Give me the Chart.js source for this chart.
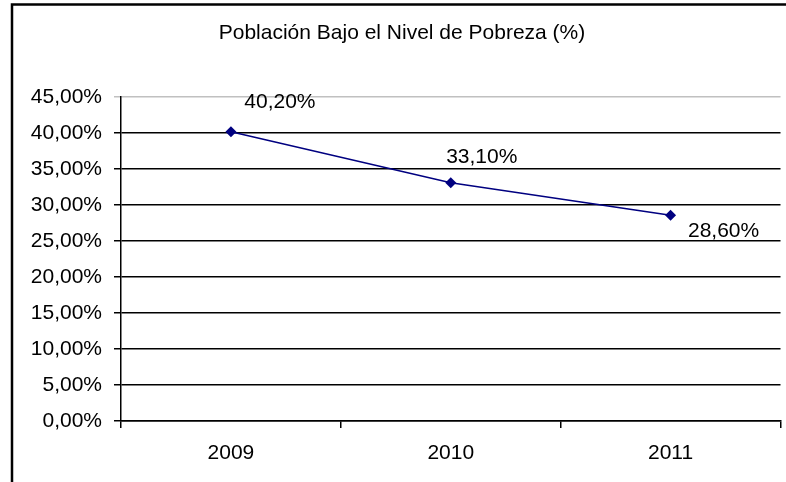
<!DOCTYPE html>
<html>
<head>
<meta charset="utf-8">
<script src="https://cdn.jsdelivr.net/npm/chart.js@4/dist/chart.umd.min.js"></script>
<style>
html,body{margin:0;padding:0;background:#fff;}
#wrap{width:786px;height:482px;position:relative;}
</style>
</head>
<body>
<div id="wrap"><canvas id="c" width="786" height="482"></canvas></div>
<script>
const categories = ['2009', '2010', '2011'];
const poverty = [40.2, 33.1, 28.6];
const yTicks = [0, 5, 10, 15, 20, 25, 30, 35, 40, 45];
const chartTitle = 'Población Bajo el Nivel de Pobreza (%)';

const fmt = v => v.toFixed(2).replace('.', ',') + '%';
const FONT = 'Liberation Sans, Arial, sans-serif';
const FSIZE = 21;

const frame = {
  id: 'frame',
  beforeDraw(chart) {
    const c = chart.ctx;
    c.save();
    c.fillStyle = '#fff';
    c.fillRect(0, 0, chart.width, chart.height);
    c.strokeStyle = '#000';
    c.lineWidth = 2.5;
    c.strokeRect(12, 4.5, chart.width + 20, chart.height + 20);
    c.restore();
  }
};

const labelOffsets = [[49, -30], [31, -26], [53, 16]];
const valueLabels = {
  id: 'valueLabels',
  afterDatasetsDraw(chart) {
    const c = chart.ctx;
    const meta = chart.getDatasetMeta(0);
    c.save();
    c.font = FSIZE + 'px ' + FONT;
    c.fillStyle = '#000';
    c.textAlign = 'center';
    c.textBaseline = 'middle';
    meta.data.forEach((pt, i) => {
      const o = labelOffsets[i];
      c.fillText(fmt(poverty[i]), pt.x + o[0], pt.y + o[1]);
    });
    c.restore();
  }
};

new Chart(document.getElementById('c'), {
  type: 'line',
  data: {
    labels: categories,
    datasets: [{
      data: poverty,
      borderColor: '#000080',
      backgroundColor: '#000080',
      borderWidth: 1.5,
      pointStyle: 'rectRot',
      pointRadius: 5.5,
      pointBorderWidth: 0,
      tension: 0,
      fill: false
    }]
  },
  plugins: [frame, valueLabels],
  options: {
    responsive: false,
    animation: false,
    devicePixelRatio: 1,
    layout: { padding: { left: 23, right: 5, top: 0, bottom: 0 } },
    plugins: {
      legend: { display: false },
      tooltip: { enabled: false },
      title: {
        display: true,
        text: chartTitle,
        color: '#000',
        font: { family: FONT, size: FSIZE, weight: 'normal', lineHeight: 1.2 },
        padding: { top: 21, bottom: 51 }
      }
    },
    scales: {
      x: {
        type: 'category',
        offset: true,
        afterFit(s) { s.height = 61; },
        border: { display: true, color: '#000', width: 1.5 },
        grid: {
          offset: true,
          drawOnChartArea: false,
          drawTicks: true,
          tickLength: 7,
          color: '#000',
          lineWidth: 1.5
        },
        ticks: {
          color: '#000',
          padding: 13,
          maxRotation: 0,
          font: { family: FONT, size: FSIZE }
        }
      },
      y: {
        min: 0,
        max: 45,
        afterFit(s) { s.width = 98; },
        afterBuildTicks(s) { s.ticks = yTicks.map(v => ({ value: v })); },
        border: { display: true, color: '#000', width: 1.5 },
        grid: {
          drawTicks: true,
          tickLength: 7,
          color: ctx => (ctx.tick && ctx.tick.value === 45) ? '#c0c0c0' : '#000',
          lineWidth: 1.5
        },
        ticks: {
          color: '#000',
          padding: 12,
          font: { family: FONT, size: FSIZE },
          callback: v => fmt(v)
        }
      }
    }
  }
});
</script>
</body>
</html>
